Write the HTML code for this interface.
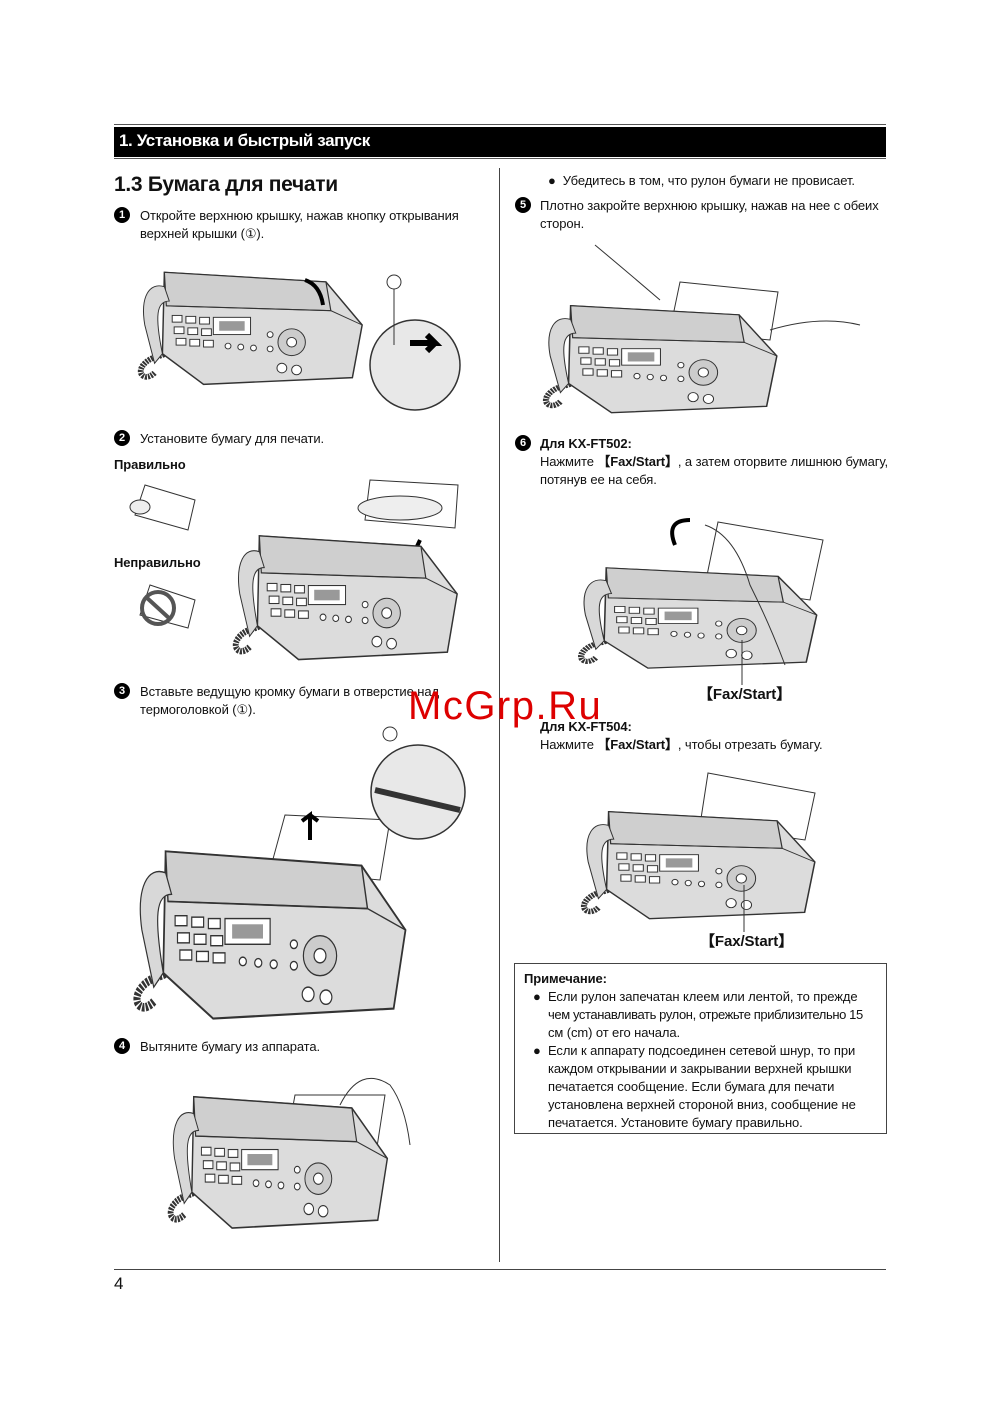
<!DOCTYPE html>
<html><head><meta charset="utf-8">
<style>
body{margin:0;background:#fff;}
#p{position:relative;width:1000px;height:1415px;font-family:"Liberation Sans",Arial,sans-serif;color:#111;overflow:hidden}
.t{position:absolute;font-size:13px;white-space:nowrap;letter-spacing:-0.1px;line-height:18px}
.b{font-weight:bold}
.n{position:absolute;width:16px;height:16px;border-radius:50%;background:#000;color:#fff;font-size:11px;font-weight:bold;text-align:center;line-height:16px}
svg{position:absolute;left:0;top:0}
</style></head><body><div id="p">
<div style="position:absolute;left:114px;top:124px;width:772px;height:1px;background:#555"></div>
<div style="position:absolute;left:114px;top:127px;width:772px;height:30px;background:#000"></div>
<div style="position:absolute;left:114px;top:158px;width:772px;height:1px;background:#555"></div>
<div class="t b" style="left:119px;top:131px;color:#fff;font-size:17px;line-height:20px;letter-spacing:-0.4px">1. Установка и быстрый запуск</div>
<div style="position:absolute;left:499px;top:168px;width:1px;height:1094px;background:#444"></div>
<div style="position:absolute;left:114px;top:1269px;width:772px;height:1px;background:#444"></div>
<div class="t" style="left:114px;top:1274px;font-size:17px;line-height:20px">4</div>

<div class="t b" style="left:114px;top:172px;font-size:21px;line-height:26px;letter-spacing:-0.3px">1.3 Бумага для печати</div>
<div class="n" style="left:114px;top:207px">1</div>
<div class="t" style="left:140px;top:207px">Откройте верхнюю крышку, нажав кнопку открывания</div>
<div class="t" style="left:140px;top:225px">верхней крышки (①).</div>
<div class="n" style="left:114px;top:430px">2</div>
<div class="t" style="left:140px;top:430px">Установите бумагу для печати.</div>
<div class="t b" style="left:114px;top:456px">Правильно</div>
<div class="t b" style="left:114px;top:554px">Неправильно</div>
<div class="n" style="left:114px;top:683px">3</div>
<div class="t" style="left:140px;top:683px">Вставьте ведущую кромку бумаги в отверстие над</div>
<div class="t" style="left:140px;top:701px">термоголовкой (①).</div>
<div class="n" style="left:114px;top:1038px">4</div>
<div class="t" style="left:140px;top:1038px">Вытяните бумагу из аппарата.</div>

<div class="t" style="left:548px;top:172px">●&nbsp; Убедитесь в том, что рулон бумаги не провисает.</div>
<div class="n" style="left:515px;top:197px">5</div>
<div class="t" style="left:540px;top:197px">Плотно закройте верхнюю крышку, нажав на нее с обеих</div>
<div class="t" style="left:540px;top:215px">сторон.</div>
<div class="n" style="left:515px;top:435px">6</div>
<div class="t b" style="left:540px;top:435px">Для KX-FT502:</div>
<div class="t" style="left:540px;top:453px">Нажмите <b>【Fax/Start】</b>, а затем оторвите лишнюю бумагу,</div>
<div class="t" style="left:540px;top:471px">потянув ее на себя.</div>
<div class="t b" style="left:698px;top:686px;font-size:15px">【Fax/Start】</div>
<div class="t b" style="left:540px;top:718px">Для KX-FT504:</div>
<div class="t" style="left:540px;top:736px">Нажмите <b>【Fax/Start】</b>, чтобы отрезать бумагу.</div>
<div class="t b" style="left:700px;top:933px;font-size:15px">【Fax/Start】</div>
<div class="t" style="left:408px;top:684px;font-size:40px;line-height:44px;color:#d00;letter-spacing:1.5px">McGrp.Ru</div>

<div style="position:absolute;left:514px;top:963px;width:371px;height:169px;border:1px solid #444"></div>
<div class="t b" style="left:524px;top:970px">Примечание:</div>
<div class="t" style="left:533px;top:988px">●</div>
<div class="t" style="left:548px;top:988px">Если рулон запечатан клеем или лентой, то прежде</div>
<div class="t" style="left:548px;top:1006px;letter-spacing:-0.4px">чем устанавливать рулон, отрежьте приблизительно 15</div>
<div class="t" style="left:548px;top:1024px">см (cm) от его начала.</div>
<div class="t" style="left:533px;top:1042px">●</div>
<div class="t" style="left:548px;top:1042px">Если к аппарату подсоединен сетевой шнур, то при</div>
<div class="t" style="left:548px;top:1060px">каждом открывании и закрывании верхней крышки</div>
<div class="t" style="left:548px;top:1078px">печатается сообщение. Если бумага для печати</div>
<div class="t" style="left:548px;top:1096px">установлена верхней стороной вниз, сообщение не</div>
<div class="t" style="left:548px;top:1114px">печатается. Установите бумагу правильно.</div>

<svg width="1000" height="1415" viewBox="0 0 1000 1415">
<defs>
<symbol id="fax" viewBox="0 0 240 140" preserveAspectRatio="none">
<path d="M20,120 c-10,10 -20,0 -10,-10 c10,-10 20,-5 25,-15" fill="none" stroke="#333" stroke-width="6" stroke-dasharray="2 1"/>
<path d="M30,15 L195,25 L232,70 L222,125 L70,132 L28,100 Z" fill="#dcdcdc" stroke="#333" stroke-width="1.5"/>
<path d="M30,15 L195,25 L200,55 L32,50 Z" fill="#cfcfcf" stroke="#333" stroke-width="1.2"/>
<path d="M32,50 L200,55 L232,70" fill="none" stroke="#333"/>
<rect x="80" y="62" width="38" height="18" fill="#fff" stroke="#333"/>
<rect x="86" y="66" width="26" height="10" fill="#999"/>
<g fill="#fff" stroke="#333"><rect x="38" y="60" width="10" height="7"/><rect x="52" y="61" width="10" height="7"/><rect x="66" y="62" width="10" height="7"/><rect x="40" y="72" width="10" height="7"/><rect x="54" y="73" width="10" height="7"/><rect x="68" y="74" width="10" height="7"/><rect x="42" y="84" width="10" height="7"/><rect x="56" y="85" width="10" height="7"/><rect x="70" y="86" width="10" height="7"/></g>
<circle cx="160" cy="88" r="14" fill="#ccc" stroke="#333"/><circle cx="160" cy="88" r="5" fill="#fff" stroke="#333"/>
<g fill="#fff" stroke="#333"><circle cx="95" cy="92" r="3"/><circle cx="108" cy="93" r="3"/><circle cx="121" cy="94" r="3"/><circle cx="138" cy="80" r="3"/><circle cx="138" cy="95" r="3"/><circle cx="150" cy="115" r="5"/><circle cx="165" cy="117" r="5"/></g>
<path d="M10,70 C5,40 15,25 30,30 L35,45 C22,45 20,60 28,100 L20,110 Z" fill="#d8d8d8" stroke="#333"/>
</symbol>
</defs>
<use href="#fax" x="135" y="258" width="235" height="134"/>
<circle cx="415" cy="365" r="45" fill="#e8e8e8" stroke="#333" stroke-width="1.5"/>
<path d="M410,343 h25 l-8,-8 M435,343 l-8,8" stroke="#000" stroke-width="6" fill="none"/>
<circle cx="394" cy="282" r="7" fill="#fff" stroke="#333"/><line x1="394" y1="289" x2="394" y2="345" stroke="#333"/>
<path d="M305,280 q15,5 18,25" stroke="#000" stroke-width="4" fill="none"/>

<path d="M145,485 L195,500 L188,530 L135,515 Z" fill="#fff" stroke="#333"/><ellipse cx="140" cy="507" rx="10" ry="7" fill="#eee" stroke="#333"/>
<path d="M150,585 L195,600 L188,628 L140,615 Z" fill="#fff" stroke="#333"/>
<circle cx="158" cy="608" r="16" fill="none" stroke="#555" stroke-width="4"/><line x1="146" y1="597" x2="170" y2="619" stroke="#555" stroke-width="4"/>
<path d="M370,480 L458,485 L455,528 L365,520 Z" fill="#fff" stroke="#333"/><ellipse cx="400" cy="508" rx="42" ry="12" fill="#eee" stroke="#333"/>
<path d="M420,540 q-15,30 -15,60" stroke="#000" stroke-width="4" fill="none"/>
<use href="#fax" x="230" y="520" width="235" height="148"/>

<path d="M285,815 L390,820 L380,880 L270,870 Z" fill="#fff" stroke="#333"/>
<use href="#fax" x="130" y="830" width="285" height="200"/>
<circle cx="418" cy="792" r="47" fill="#e8e8e8" stroke="#333" stroke-width="1.5"/>
<path d="M375,790 L460,810" stroke="#333" stroke-width="6"/>
<circle cx="390" cy="734" r="7" fill="#fff" stroke="#333"/>
<path d="M310,840 v-25 l-8,6 M310,815 l8,6" stroke="#000" stroke-width="4" fill="none"/>

<path d="M295,1095 L385,1095 L375,1160 L285,1150 Z" fill="#fff" stroke="#333"/>
<use href="#fax" x="165" y="1080" width="230" height="157"/>
<path d="M340,1105 q20,-40 50,-20 q15,20 20,60" stroke="#333" fill="none"/>

<path d="M680,282 L778,292 L770,340 L670,330 Z" fill="#fff" stroke="#333"/>
<use href="#fax" x="540" y="292" width="245" height="128"/>
<path d="M595,245 q30,25 65,55 M770,330 q50,-15 90,-5" stroke="#333" fill="none"/>

<path d="M718,522 L823,540 L810,600 L705,585 Z" fill="#fff" stroke="#333"/>
<use href="#fax" x="575" y="555" width="250" height="120"/>
<path d="M705,525 q30,10 45,60 q20,40 35,80" stroke="#333" fill="none"/>
<path d="M690,520 q-25,0 -15,25" stroke="#000" stroke-width="4" fill="none"/>
<line x1="742" y1="640" x2="742" y2="685" stroke="#333"/>

<path d="M708,773 L815,793 L805,840 L700,825 Z" fill="#fff" stroke="#333"/>
<use href="#fax" x="578" y="798" width="245" height="128"/>
<line x1="744" y1="885" x2="744" y2="932" stroke="#333"/>
</svg>
</div></body></html>
